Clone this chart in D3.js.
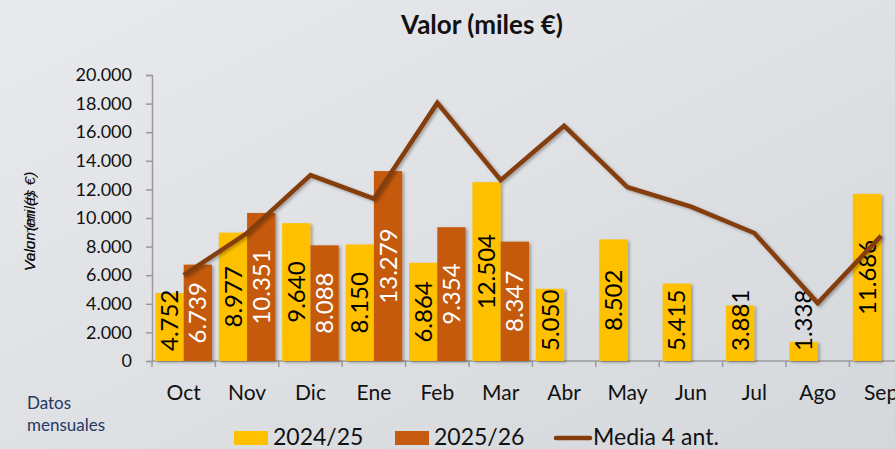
<!DOCTYPE html>
<html>
<head>
<meta charset="utf-8">
<script src="https://cdn.jsdelivr.net/npm/d3@7"></script>
<style>
  html, body { margin: 0; padding: 0; overflow: hidden; }
  svg { display: block; font-family: Lato, "Open Sans", sans-serif; }
</style>
</head>
<body>
<script>
// Valor (miles €) - monthly bars with moving average line

var months = ["Oct", "Nov", "Dic", "Ene", "Feb", "Mar", "Abr", "May", "Jun", "Jul", "Ago", "Sep"];
var serie2425 = [4752, 8977, 9640, 8150, 6864, 12504, 5050, 8502, 5415, 3881, 1338, 11686];
var serie2526 = [6739, 10351, 8088, 13279, 9354, 8347, null, null, null, null, null, null];
var media4 = [6000, 8950, 13000, 11350, 18050, 12650, 16450, 12150, 10800, 8950, 4050, 8750];
var yTicks = [0, 2000, 4000, 6000, 8000, 10000, 12000, 14000, 16000, 18000, 20000];
var seriesNames = ["2024/25", "2025/26"];

var W = 895, H = 449;
var plot = { left: 152, top: 75, bottom: 361, bandW: 63.4 };

var es = d3.formatLocale({ decimal: ",", thousands: ".", grouping: [3], currency: ["", "€"] });
var fmt = es.format(",.0f");

function barColor(s) {
    if (s === "2024/25")
        return "#FFC000";
    else
        return "#C55A11";
}

function labelColor(s) {
    if (s === "2024/25")
        return "#000000";
    else
        return "#ffffff";
}

var svg = d3.select("body").append("svg")
    .attr("width", W)
    .attr("height", H);

var defs = svg.append("defs");
var grad = defs.append("linearGradient")
    .attr("id", "bg")
    .attr("x1", "0").attr("y1", "0")
    .attr("x2", "1").attr("y2", "1");
grad.append("stop").attr("offset", "0").attr("stop-color", "#e9eaed");
grad.append("stop").attr("offset", "1").attr("stop-color", "#d4d7db");

var shadow = defs.append("filter")
    .attr("id", "shadow")
    .attr("x", "-20%").attr("y", "-20%")
    .attr("width", "140%").attr("height", "140%");
shadow.append("feDropShadow")
    .attr("dx", 2).attr("dy", 1.5)
    .attr("stdDeviation", 1.5)
    .attr("flood-color", "#000")
    .attr("flood-opacity", 0.3);

svg.append("rect")
    .attr("width", W).attr("height", H)
    .attr("fill", "url(#bg)");

// scales
var x = d3.scaleBand()
    .domain(months)
    .range([plot.left, plot.left + plot.bandW * months.length])
    .padding(0);

var xInner = d3.scaleBand()
    .domain(seriesNames)
    .range([0, x.bandwidth()])
    .paddingInner(0)
    .paddingOuter(0.12);

var y = d3.scaleLinear()
    .domain([0, 20000])
    .range([plot.bottom, plot.top]);

// title
svg.append("text")
    .attr("x", 482)
    .attr("y", 34)
    .attr("text-anchor", "middle")
    .style("font-size", "26px")
    .style("font-weight", "bold")
    .style("fill", "#111")
    .text("Valor (miles €)");

// y axis
var yAxis = svg.append("g")
    .attr("transform", "translate(" + plot.left + ",0)")
    .call(d3.axisLeft(y).tickValues(yTicks).tickFormat(fmt).tickSize(6).tickPadding(14));
yAxis.selectAll("path, line").attr("stroke", "#9a9a9a").attr("stroke-width", 1.5);
yAxis.selectAll("text")
    .style("font-size", "18px")
    .style("font-family", "Lato, sans-serif")
    .style("fill", "#111");

// y axis title (two overlapping texts as in original)
var yTitles = ["Valor (miles €)", "Volumen (t)"];
svg.append("g").selectAll("text")
    .data(yTitles)
    .enter()
    .append("text")
    .attr("transform", "translate(35,271) rotate(-90)")
    .attr("text-anchor", "start")
    .style("font-size", "15.5px")
    .style("font-style", "italic")
    .style("font-family", "'Liberation Sans', Arial, sans-serif")
    .style("fill", "#111")
    .text(function(d) { return d; });

// x axis
var xAxis = svg.append("g");
xAxis.append("line")
    .attr("x1", plot.left).attr("x2", W)
    .attr("y1", plot.bottom).attr("y2", plot.bottom)
    .attr("stroke", "#9a9a9a").attr("stroke-width", 1.5);
xAxis.selectAll(".tk")
    .data(months)
    .enter()
    .append("line")
    .attr("class", "tk")
    .attr("x1", function(d) { return x(d); })
    .attr("x2", function(d) { return x(d); })
    .attr("y1", plot.bottom)
    .attr("y2", plot.bottom + 6)
    .attr("stroke", "#9a9a9a").attr("stroke-width", 1.5);
xAxis.selectAll(".ml")
    .data(months)
    .enter()
    .append("text")
    .attr("class", "ml")
    .attr("x", function(d) { return x(d) + x.bandwidth() / 2; })
    .attr("y", 400)
    .attr("text-anchor", "middle")
    .style("font-size", "21px")
    .style("fill", "#111")
    .text(function(d) { return d; });

// bars
var barData = [];
months.forEach(function(m, i) {
    if (serie2425[i] !== null) barData.push({ m: m, s: "2024/25", v: serie2425[i] });
    if (serie2526[i] !== null) barData.push({ m: m, s: "2025/26", v: serie2526[i] });
});

var bars = svg.append("g").selectAll(".bar")
    .data(barData)
    .enter()
    .append("rect")
    .attr("class", "bar")
    .attr("x", function(d) { return x(d.m) + xInner(d.s); })
    .attr("width", xInner.bandwidth())
    .attr("y", function(d) { return y(d.v); })
    .attr("height", function(d) { return y(0) - y(d.v); })
    .attr("fill", function(d) { return barColor(d.s); })
    .attr("filter", "url(#shadow)");

// bar labels, rotated, centred in bar but kept above the base
var labels = svg.append("g").selectAll(".bl")
    .data(barData)
    .enter()
    .append("text")
    .attr("class", "bl")
    .attr("text-anchor", "middle")
    .attr("dy", "0.36em")
    .style("font-size", "24px")
    .style("fill", function(d) { return labelColor(d.s); })
    .text(function(d) { return fmt(d.v); });

labels.attr("transform", function(d) {
    var len = this.getComputedTextLength();
    var cx = x(d.m) + xInner(d.s) + xInner.bandwidth() / 2;
    var cy = Math.min((y(d.v) + y(0)) / 2, 351 - len / 2);
    return "translate(" + cx + "," + cy + ") rotate(-90)";
});

// moving average line
var line = d3.line()
    .x(function(d, i) { return x(months[i]) + x.bandwidth() / 2; })
    .y(function(d) { return y(d); });

svg.append("path")
    .datum(media4)
    .attr("d", line)
    .attr("fill", "none")
    .attr("stroke", "#843C0C")
    .attr("stroke-width", 4.5)
    .attr("stroke-linejoin", "miter")
    .attr("filter", "url(#shadow)");

// footnote
svg.append("text")
    .attr("x", 27).attr("y", 409)
    .style("font-size", "17px")
    .style("fill", "#1f3864")
    .text("Datos");
svg.append("text")
    .attr("x", 27).attr("y", 431)
    .style("font-size", "17px")
    .style("fill", "#1f3864")
    .text("mensuales");

// legend
var legend = svg.append("g");
var legendItems = [
    { name: "2024/25", type: "rect", x: 234 },
    { name: "2025/26", type: "rect", x: 395 },
    { name: "Media 4 ant.", type: "line", x: 554 }
];

legendItems.forEach(function(it) {
    if (it.type === "rect") {
        legend.append("rect")
            .attr("x", it.x).attr("y", 431)
            .attr("width", 34).attr("height", 14)
            .attr("fill", barColor(it.name));
    }
    else {
        legend.append("line")
            .attr("x1", it.x + 2).attr("x2", it.x + 36)
            .attr("y1", 438).attr("y2", 438)
            .attr("stroke", "#843C0C")
            .attr("stroke-width", 4.5)
            .attr("stroke-linecap", "round");
    }
    legend.append("text")
        .attr("x", it.x + 39)
        .attr("y", 445)
        .style("font-size", "23px")
        .style("fill", "#111")
        .text(it.name);
});
</script>
</body>
</html>
